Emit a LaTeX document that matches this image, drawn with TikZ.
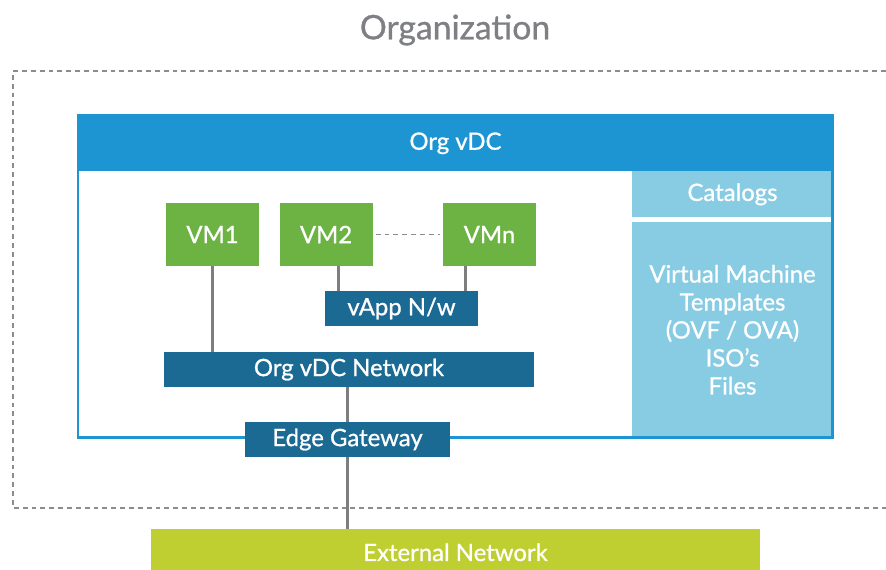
\documentclass[tikz,border=0pt]{standalone}
\usepackage{fontspec}
\setmainfont{Lato}[FakeBold=0.9]
\usetikzlibrary{positioning,calc}
\definecolor{corgtxt}{HTML}{7E8083}
\definecolor{cdash}{HTML}{8C8C8C}
\definecolor{cvdc}{HTML}{1E95D3}
\definecolor{cnet}{HTML}{1A6A93}
\definecolor{ccat}{HTML}{88CCE4}
\definecolor{cvm}{HTML}{6CB344}
\definecolor{cext}{HTML}{BFCE30}
\definecolor{clink}{HTML}{7E7E80}
\tikzset{
  boxfont/.style={font=\fontsize{17}{20}\selectfont},
  blk/.style={boxfont,text=white,inner sep=0pt,align=center},
  vm/.style={blk,fill=cvm,minimum width=2.325cm,minimum height=1.575cm},
  netbar/.style={blk,fill=cnet,minimum height=0.875cm},
  catbox/.style={blk,fill=ccat,minimum width=5.01cm,anchor=north west},
}

\begin{document}
\begin{tikzpicture}[
  link/.style={draw=clink, line width=2.2pt},
  dsh/.style={draw=cdash, line width=1.1pt, dash pattern=on 3.5pt off 2.8pt},
  frm/.style={draw=cvdc, line width=2.1pt},
]
\useasboundingbox (0,0) rectangle (22.15,14.225);

% ================= organization =================
\node[font=\fontsize{24}{28}\selectfont, text=corgtxt] (orgtitle) at (11.375,13.475) {Organization};
\draw[dsh] (22.15,12.45) -- (0.325,12.45) -- (0.325,1.525) -- (22.15,1.525);

% ================= org vdc =================
\fill[white] (1.95,3.29) rectangle (20.81,11.35);
\node[blk, fill=cvdc, minimum width=18.86cm, minimum height=1.4cm, anchor=north west] (vdc) at (1.95,11.35) {Org vDC};
\node[catbox, minimum height=1.15cm] (cat) at (15.8,9.95) {Catalogs};
\node[catbox, minimum height=5.375cm, font=\fontsize{17}{19.9}\selectfont] (catitems) at (15.8,8.675)
  {Virtual Machine\\Templates\\(OVF / OVA)\\ISO’s\\Files};
\draw[frm] (1.95,3.29) rectangle (20.81,11.35);

% ================= vms and networks =================
\node[vm] (vm1) at (5.3125,8.3625) {VM1};
\node[vm, right=0.5cm of vm1] (vm2) {VM2};
\node[vm] (vmn) at (12.2375,8.3625) {VMn};
\draw[dsh, shorten <=2pt, shorten >=2pt] (vm2) -- (vmn);

\node[netbar, minimum width=3.825cm] (vapp) at (10.0375,6.5125) {vApp N/w};
\node[netbar, minimum width=9.25cm] (orgnet) at (8.725,4.9875) {Org vDC Network};
\node[netbar, minimum width=5.125cm] (edge) at (8.6875,3.2375) {Edge Gateway};
\node[blk, fill=cext, minimum width=15.225cm, minimum height=1.15cm, anchor=north] (extnet) at (11.3875,1.0) {External Network};

\draw[link] (vm1.south) -- (vm1.south |- orgnet.north);
\draw[link] ([xshift=0.35cm]vapp.north west) -- ([xshift=0.35cm]vapp.north west |- vm2.south);
\draw[link] ([xshift=-0.325cm]vapp.north east) -- ([xshift=-0.325cm]vapp.north east |- vmn.south);
\draw[link] (edge.north) -- (edge.north |- orgnet.south);
\draw[link] (edge.south) -- (edge.south |- extnet.north);
\end{tikzpicture}
\end{document}
